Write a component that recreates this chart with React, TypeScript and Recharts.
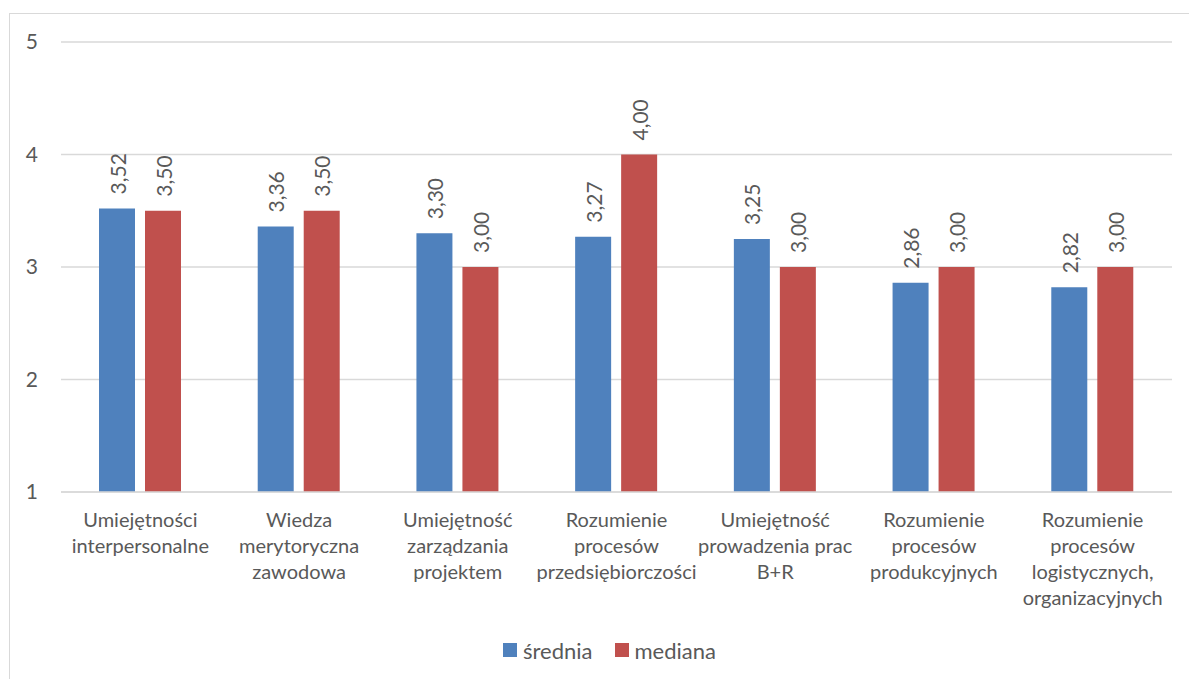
import { BarChart, Bar, XAxis, YAxis, CartesianGrid, Legend, LabelList } from "recharts";

const categories = [
  "Umiejętności\ninterpersonalne",
  "Wiedza\nmerytoryczna\nzawodowa",
  "Umiejętność\nzarządzania\nprojektem",
  "Rozumienie\nprocesów\nprzedsiębiorczości",
  "Umiejętność\nprowadzenia prac\nB+R",
  "Rozumienie\nprocesów\nprodukcyjnych",
  "Rozumienie\nprocesów\nlogistycznych,\norganizacyjnych",
];
const srednia = [3.52, 3.36, 3.3, 3.27, 3.25, 2.86, 2.82];
const mediana = [3.5, 3.5, 3.0, 4.0, 3.0, 3.0, 3.0];
const yTicks = [1, 2, 3, 4, 5];
const seriesNames = ["średnia", "mediana"];

const BLUE = "#4F81BD";
const RED = "#C0504D";
const TEXT = "#595959";
const GRID = "#D9D9D9";
const FONT = "Lato, 'Open Sans', sans-serif";

const data = categories.map((name, i) => ({
  name,
  srednia: srednia[i],
  mediana: mediana[i],
}));

const fmt = (v: number) => v.toFixed(2).replace(".", ",");

// multi-line category labels, split on explicit breaks
function CategoryTick(props: any) {
  const { x, y, payload } = props;
  const lines: string[] = String(payload.value).split("\n");
  return (
    <text x={x} y={y} textAnchor="middle" fill={TEXT} fontSize={20} fontFamily={FONT}>
      {lines.map((line, i) => (
        <tspan key={i} x={x} y={y + 19 + i * 26} dominantBaseline="central">
          {line}
        </tspan>
      ))}
    </text>
  );
}

// value labels written upward above each bar
function RotatedLabel(props: any) {
  const { x, y, width, value } = props;
  const cx = x + width / 2;
  const ty = y - 14;
  return (
    <text
      x={cx}
      y={ty}
      transform={`rotate(-90 ${cx} ${ty})`}
      textAnchor="start"
      dominantBaseline="central"
      fill={TEXT}
      fontSize={21}
      fontFamily={FONT}
    >
      {fmt(Number(value))}
    </text>
  );
}

function LegendBox() {
  const colors = [BLUE, RED];
  return (
    <div
      style={{
        height: 24,
        display: "flex",
        justifyContent: "center",
        alignItems: "center",
        gap: 22,
        paddingLeft: 26,
        fontFamily: FONT,
        fontSize: 22,
        color: TEXT,
      }}
    >
      {seriesNames.map((n, i) => (
        <div key={n} style={{ display: "flex", alignItems: "center", gap: 6 }}>
          <span style={{ width: 14, height: 14, background: colors[i], display: "inline-block" }} />
          <span>{n}</span>
        </div>
      ))}
    </div>
  );
}

export default function App() {
  return (
    <div style={{ position: "absolute", left: 0, top: 0, width: 1189, height: 679, overflow: "hidden", background: "#fff" }}>
      <div
        style={{
          position: "absolute",
          left: 9,
          top: 13,
          width: 1200,
          height: 700,
          borderLeft: `1.5px solid ${GRID}`,
          borderTop: `1.5px solid ${GRID}`,
        }}
      />
      <BarChart
        width={1189}
        height={679}
        data={data}
        margin={{ top: 42, right: 17, bottom: 17, left: 21 }}
        barSize={36}
        barGap={10}
        style={{ position: "absolute", left: 0, top: 0 }}
      >
        <CartesianGrid vertical={false} stroke={GRID} strokeWidth={1.5} />
        <XAxis
          dataKey="name"
          axisLine={{ stroke: GRID, strokeWidth: 1.5 }}
          tickLine={false}
          interval={0}
          height={146}
          tick={<CategoryTick />}
        />
        <YAxis
          domain={[1, 5]}
          ticks={yTicks}
          width={40}
          axisLine={false}
          tickLine={false}
          tickMargin={17}
          tick={{ fill: TEXT, fontSize: 21, fontFamily: FONT }}
        />
        <Legend verticalAlign="bottom" content={() => <LegendBox />} />
        <Bar dataKey="srednia" name={seriesNames[0]} fill={BLUE} isAnimationActive={false}>
          <LabelList dataKey="srednia" content={<RotatedLabel />} />
        </Bar>
        <Bar dataKey="mediana" name={seriesNames[1]} fill={RED} isAnimationActive={false}>
          <LabelList dataKey="mediana" content={<RotatedLabel />} />
        </Bar>
      </BarChart>
    </div>
  );
}
